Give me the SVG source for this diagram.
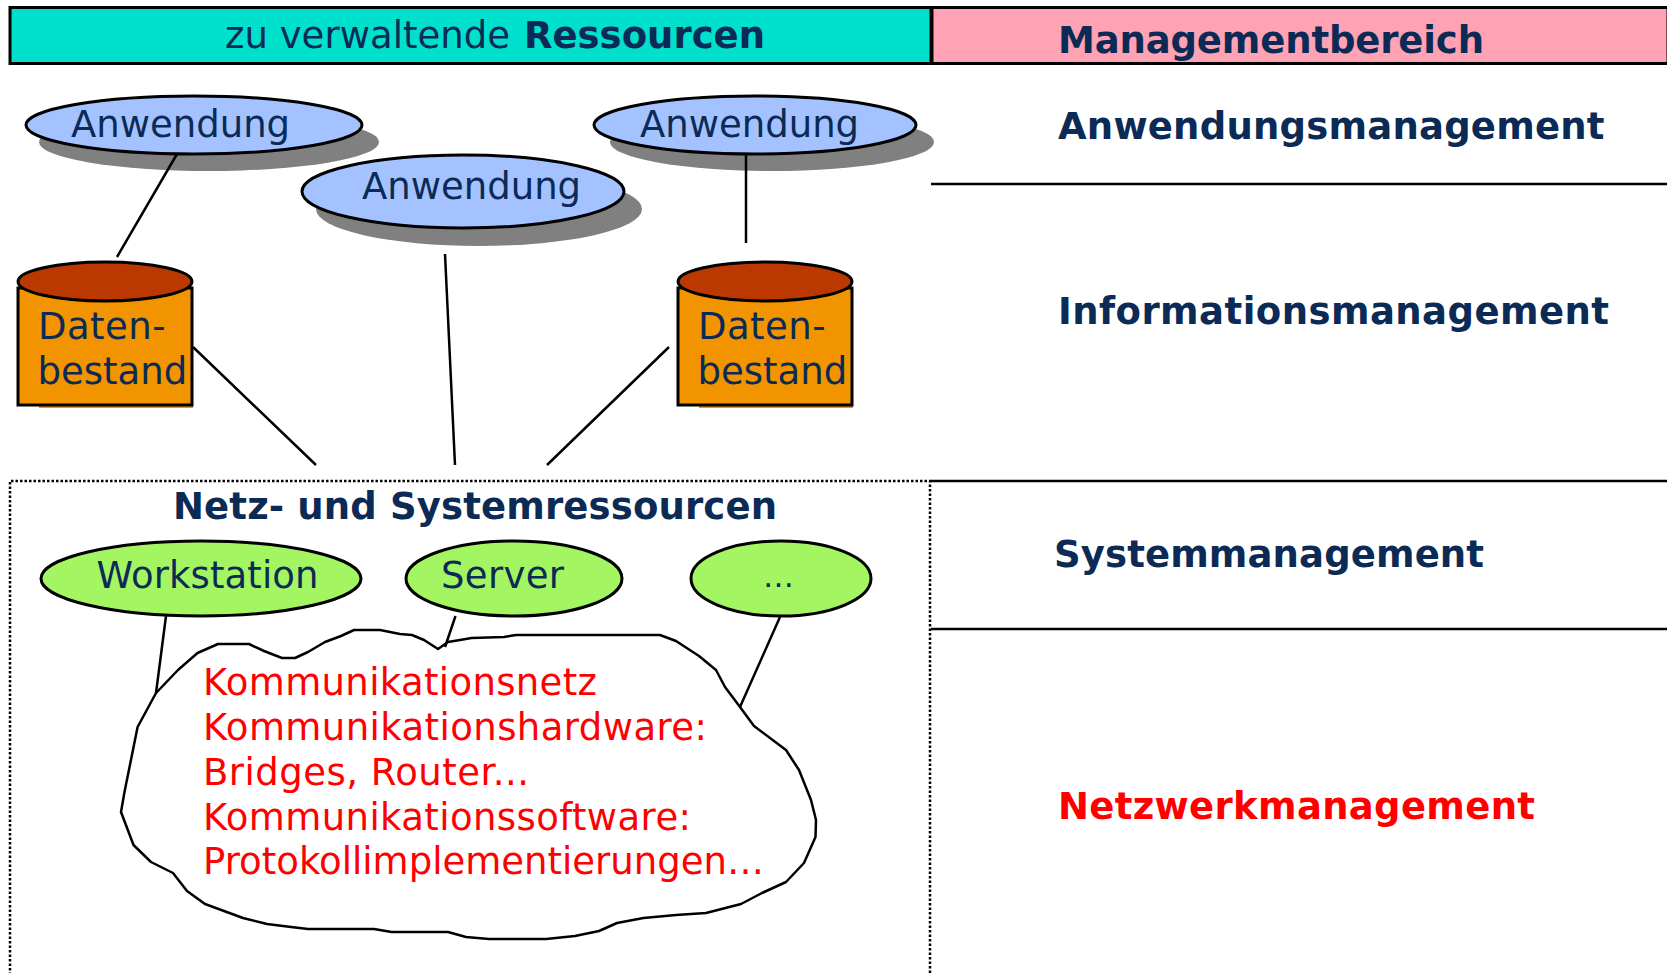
<svg xmlns="http://www.w3.org/2000/svg" width="1667" height="973" viewBox="0 0 1667 973">
<style>
text{font-family:"DejaVu Sans",Verdana,sans-serif;font-size:37px;fill:#0b2a55}
.b{font-weight:700}
.r{fill:#f00}
.o{stroke:#000;stroke-width:3}
.c{stroke:#000;stroke-width:2.5;fill:none;stroke-linejoin:round}
.a{fill:#a3c2ff}
.g{fill:#a3f562}
.s{fill:#808080}
.body{fill:#f29400}
.top{fill:#bb3800}
</style>
<rect width="1667" height="973" fill="#fff"/>
<g id="header-left"><rect x="10" y="7.500" width="921" height="56" fill="#00e0cc" class="o"/><text x="225" y="48" textLength="285">zu verwaltende</text><text x="524" y="48" class="b" textLength="241">Ressourcen</text></g>
<g id="header-right"><rect x="932" y="7.500" width="736" height="56" fill="#ffa2b3" class="o"/><text x="1058" y="53" class="b" textLength="426">Managementbereich</text></g>
<g id="dividers">
<path d="M931 184H1667M931 481H1667M931 629H1667" class="c"/>
</g>
<g id="network-frame"><path d="M930 973V481H10V973" fill="none" stroke="#000" stroke-width="2.500" stroke-dasharray="2.500 2"/><text x="173" y="519" class="b" textLength="604">Netz- und Systemressourcen</text></g>
<g id="app1"><ellipse cx="209" cy="142" rx="170" ry="29" class="s"/><ellipse cx="194" cy="125" rx="168" ry="29" class="a o"/><text x="71" y="137">Anwendung</text></g>
<g id="app2"><ellipse cx="479" cy="209" rx="163" ry="37" class="s"/><ellipse cx="463" cy="191.500" rx="161" ry="36.500" class="a o"/><text x="362" y="199">Anwendung</text></g>
<g id="app3"><ellipse cx="772" cy="142" rx="162" ry="29" class="s"/><ellipse cx="755" cy="125" rx="161" ry="29" class="a o"/><text x="640" y="137">Anwendung</text></g>
<g id="data1"><rect x="39" y="400" width="154" height="8" class="body"/><rect x="18" y="288" width="174" height="117" class="body o"/><ellipse cx="105" cy="281.500" rx="87" ry="19.500" class="top o"/><text x="38" y="339" textLength="127.500">Daten-</text><text x="37.500" y="384">bestand</text></g>
<g id="data2"><rect x="699" y="400" width="154" height="8" class="body"/><rect x="678" y="288" width="174" height="117" class="body o"/><ellipse cx="765" cy="281.500" rx="87" ry="19.500" class="top o"/><text x="698" y="339" textLength="127.500">Daten-</text><text x="697.500" y="384">bestand</text></g>
<g id="workstation"><ellipse cx="201" cy="578.500" rx="160" ry="37.500" class="g o"/><text x="96.500" y="588" textLength="222">Workstation</text></g>
<g id="server"><ellipse cx="514" cy="578.500" rx="108" ry="37.500" class="g o"/><text x="441" y="588" textLength="123">Server</text></g>
<g id="other"><ellipse cx="781" cy="578.500" rx="90" ry="37.500" class="g o"/><text x="763" y="587" style="font-size:31px">…</text></g>
<g id="cloud"><path d="M156 693L178 670L197.500 653L218 644L249 644L264 651L282 658L295 658L308 652L325 642L341 636L354 630L380 630L400 634L412 635L424 640L438 649L448 642L460 640L471.500 638L504 637L516 635L660 635L676 641L699 656L716 670L725 687L740 707L754 726L786 750L799 770L811 800L816 820L815.500 837L804 863L786 882L762 893L741 904L706 913L676 915L643.500 918L617 923L599 931L575 936L546 939L489 939L466 937L448 932L391.500 932L374 929L308 929L291 927L267 924L243 918L205 904L187 891L173 873L151 862L133.500 845L121 812L124.500 792L137.600 727Z" fill="#fff" class="c"/>
<text x="203" y="695" class="r" textLength="394">Kommunikationsnetz</text><text x="203" y="740" class="r" textLength="504">Kommunikationshardware:</text><text x="203" y="785" class="r" textLength="326">Bridges, Router...</text><text x="203" y="830" class="r" textLength="488">Kommunikationssoftware:</text><text x="203" y="874" class="r" textLength="561">Protokollimplementierungen…</text></g>
<g id="labels">
<text x="1058" y="139" class="b" textLength="546.500">Anwendungsmanagement</text>
<text x="1058" y="324" class="b" textLength="551">Informationsmanagement</text>
<text x="1054" y="567" class="b" textLength="430">Systemmanagement</text>
<text x="1058" y="819" class="b r" textLength="477">Netzwerkmanagement</text>
</g>
<g id="connectors">
<path d="M177 154L117 257M746 154V243M445 254L455 465M193 347L316 465M669 347L547 465M166 616L156 693M455.500 616L445 647M780 617L740 707" class="c"/>
</g>
</svg>
